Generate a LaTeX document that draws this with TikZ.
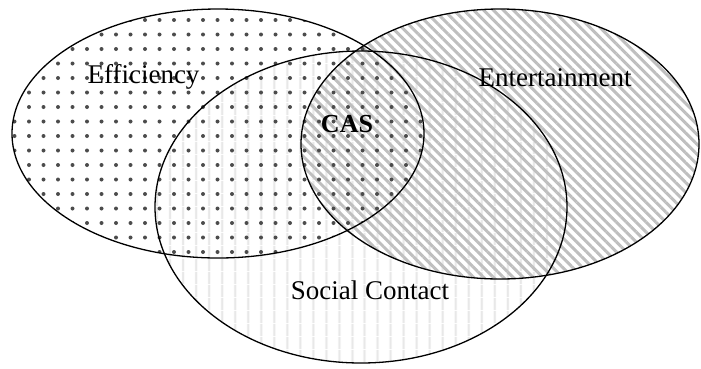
\documentclass[tikz,border=0pt]{standalone}
\usepackage{fontspec}
\setmainfont{Liberation Serif}
\usetikzlibrary{patterns.meta}
\begin{document}
\begin{tikzpicture}[x=1pt,y=-1pt,
  outline/.style={draw=black,line width=1.3pt},
  lbl/.style={anchor=base,inner sep=0pt,font=\fontsize{27}{31}\selectfont}]
\useasboundingbox (0,0) rectangle (701,368);
% fills
\path[pattern={Lines[angle=90,distance=13pt,line width=2.5pt]},pattern color=black!9]
  (361,207) ellipse [x radius=206,y radius=156];
\path[pattern={Lines[angle=-45,distance=7pt,line width=3pt]},pattern color=black!25]
  (500,144) ellipse [x radius=199,y radius=135];
\path[pattern={Dots[distance=14.5pt,radius=2pt]},pattern color=black!70]
  (218,133.5) ellipse [x radius=206,y radius=124.5];
% outlines
\draw[outline] (218,133.5) ellipse [x radius=206,y radius=124.5];
\draw[outline] (500,144) ellipse [x radius=199,y radius=135];
\draw[outline] (361,207) ellipse [x radius=206,y radius=156];
% labels
\node[lbl] (eff) at (143.5,83) {Efficiency};
\node[lbl] (ent) at (555,86) {Entertainment};
\node[lbl,font=\fontsize{26}{30}\selectfont\bfseries] (cas) at (347,132) {CAS};
\node[lbl] (soc) at (370,299) {Social Contact};
\end{tikzpicture}
\end{document}
